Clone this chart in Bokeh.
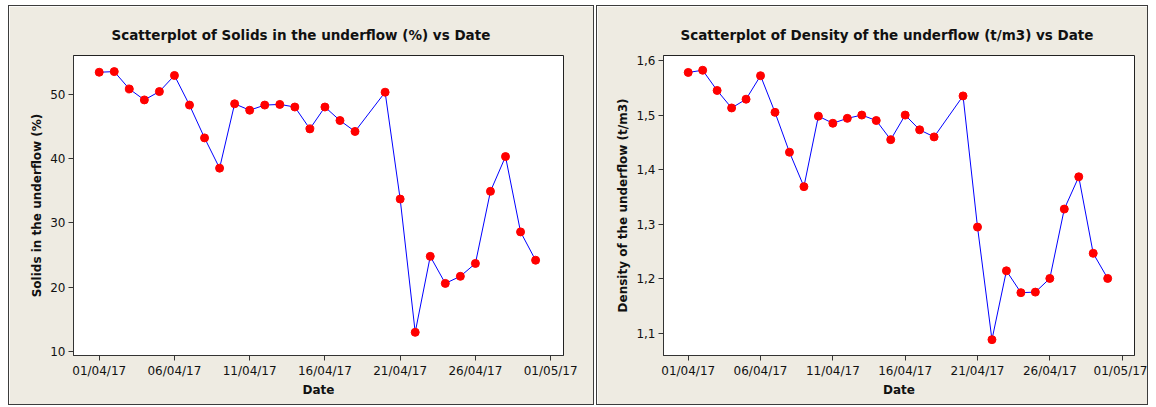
import pandas as pd
from bokeh.plotting import figure
from bokeh.layouts import row
from bokeh.models import Range1d, FixedTicker, DatetimeTickFormatter, CustomJSTickFormatter
from bokeh.embed import file_html
from bokeh.resources import INLINE

dates = ["2017-04-01", "2017-04-02", "2017-04-03", "2017-04-04", "2017-04-05",
         "2017-04-06", "2017-04-07", "2017-04-08", "2017-04-09", "2017-04-10",
         "2017-04-11", "2017-04-12", "2017-04-13", "2017-04-14", "2017-04-15",
         "2017-04-16", "2017-04-17", "2017-04-18", "2017-04-20", "2017-04-21",
         "2017-04-22", "2017-04-23", "2017-04-24", "2017-04-25", "2017-04-26",
         "2017-04-27", "2017-04-28", "2017-04-29", "2017-04-30"]
solids = [53.4, 53.5, 50.8, 49.1, 50.4, 52.9, 48.3, 43.2, 38.5, 48.5,
          47.5, 48.3, 48.4, 48.0, 44.6, 48.0, 45.9, 44.2, 50.3, 33.7,
          13.0, 24.8, 20.6, 21.7, 23.7, 34.9, 40.3, 28.6, 24.2]
density = [1.578, 1.582, 1.545, 1.513, 1.529, 1.572, 1.505, 1.432, 1.369, 1.498,
           1.485, 1.494, 1.500, 1.490, 1.455, 1.500, 1.473, 1.460, 1.535, 1.295,
           1.089, 1.215, 1.175, 1.176, 1.201, 1.328, 1.387, 1.247, 1.201]
x_tick_dates = ["2017-04-01", "2017-04-06", "2017-04-11", "2017-04-16",
                "2017-04-21", "2017-04-26", "2017-05-01"]
solids_ticks = [10, 20, 30, 40, 50]
density_ticks = [1.1, 1.2, 1.3, 1.4, 1.5, 1.6]

x = pd.to_datetime(dates)
x_ticks_ms = [pd.Timestamp(d).value // 10**6 for d in x_tick_dates]

BEIGE = "#EEEBE2"
FONT = "DejaVu Sans"
HEIGHT = 400


def make_panel(title, ylabel, yvals, yrange, yticks, width, borders, title_offset, comma=False):
    p = figure(width=width, height=HEIGHT, output_backend="svg", toolbar_location=None,
               x_axis_type="datetime",
               x_range=Range1d(pd.Timestamp("2017-03-30 07:00"), pd.Timestamp("2017-05-01 20:30")),
               y_range=Range1d(*yrange),
               min_border_left=borders[0], min_border_right=borders[1],
               min_border_top=borders[2], min_border_bottom=borders[3],
               styles={"border": "1px solid #3c3c3c", "box-sizing": "border-box"})
    p.background_fill_color = "white"
    p.border_fill_color = BEIGE
    p.outline_line_color = "#222222"
    p.outline_line_width = 1
    p.grid.visible = False

    p.title.text = title
    p.title.align = "left"
    p.title.offset = title_offset
    p.title.text_font = FONT
    p.title.text_font_size = "13.5px"
    p.title.text_font_style = "bold"
    p.title.text_color = "#111111"
    p.title.standoff = 25

    p.line(x, yvals, line_color="#0000FF", line_width=1)
    p.scatter(x, yvals, size=8, fill_color="#FF0000", line_color="#FF0000")

    for ax in (p.xaxis[0], p.yaxis[0]):
        ax.axis_line_color = "#333333"
        ax.major_tick_line_color = "#333333"
        ax.major_tick_out = 5
        ax.major_tick_in = 0
        ax.minor_tick_line_color = None
        ax.major_label_text_font = FONT
        ax.major_label_text_font_size = "12px"
        ax.major_label_text_color = "#111111"
        ax.major_label_standoff = 3
        ax.axis_label_text_font = FONT
        ax.axis_label_text_font_size = "12px"
        ax.axis_label_text_font_style = "bold"
        ax.axis_label_text_color = "#111111"

    p.xaxis.axis_label = "Date"
    p.xaxis.axis_label_standoff = 2
    p.xaxis.ticker = FixedTicker(ticks=x_ticks_ms)
    p.xaxis.formatter = DatetimeTickFormatter(days="%d/%m/%y", months="%d/%m/%y")

    p.yaxis.axis_label = ylabel
    p.yaxis.axis_label_standoff = 3
    p.yaxis.ticker = FixedTicker(ticks=yticks)
    if comma:
        p.yaxis.formatter = CustomJSTickFormatter(code="return tick.toFixed(1).replace('.', ',');")
    return p


p1 = make_panel("Scatterplot of Solids in the underflow (%) vs Date",
                "Solids in the underflow (%)", solids, (9.4, 56.0), solids_ticks,
                586, (64, 32, 47, 51), 38)
p2 = make_panel("Scatterplot of Density of the underflow (t/m3) vs Date",
                "Density of the underflow (t/m3)", density, (1.06, 1.609), density_ticks,
                552, (66, 15, 49, 51), 17, comma=True)

layout = row(p1, p2, spacing=2, margin=(5, 0, 0, 8))
open("out.html", "w").write(file_html(layout, INLINE))
